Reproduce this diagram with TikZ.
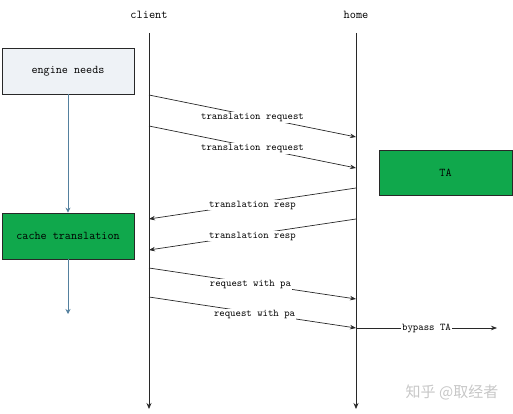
\documentclass[tikz,border=0pt]{standalone}
\usepackage{fontspec}
\newfontfamily\cjk{Noto Sans CJK SC}
\usetikzlibrary{arrows.meta}
\definecolor{boxgreen}{RGB}{16,168,76}
\definecolor{boxgray}{RGB}{238,242,246}
\definecolor{flowblue}{RGB}{84,128,158}
\definecolor{linegray}{RGB}{40,40,40}
\tikzset{
  title/.style={font=\ttfamily\fontsize{12}{13}\selectfont, inner sep=0pt},
  procbox/.style={draw=linegray, line width=0.8pt, minimum width=132pt, minimum height=46pt, font=\ttfamily\fontsize{11.8}{13}\selectfont, inner sep=0pt},
  lifeline/.style={draw=linegray, line width=0.8pt, -{Stealth[length=6pt,width=5pt]}},
  msg/.style={draw=linegray, line width=0.7pt, -{Stealth[length=6pt,width=4.5pt]}},
  msglabel/.style={fill=white, font=\ttfamily\fontsize{10.3}{11}\selectfont, inner sep=1pt, yshift=-1.5pt},
  flow/.style={draw=flowblue, line width=0.8pt, -{Stealth[length=5pt,width=5pt]}}
}
\begin{document}
\begin{tikzpicture}[x=1pt,y=-1pt]
\useasboundingbox (0,0) rectangle (513,414);
% titles
\node[title] (client) at (149,15) {client};
\node[title] (home) at (356,15) {home};
% lifelines
\coordinate (ct) at (149,33);
\coordinate (cb) at (149,409);
\coordinate (ht) at (356,33);
\coordinate (hb) at (356,409);
\draw[lifeline] (ct) -- (cb);
\draw[lifeline] (ht) -- (hb);
% boxes
\node[procbox, fill=boxgray] (engine) at (68,71) {engine needs};
\node[procbox, fill=boxgreen] (cache) at (68,236) {cache translation};
\node[procbox, fill=boxgreen, minimum width=133pt, minimum height=45pt] (ta) at (445.5,172.5) {TA};
% left flow
\coordinate (flowend) at (68,314);
\draw[flow] (engine.south) -- (cache.north);
\draw[flow] (cache.south) -- (flowend);
% message endpoints
\coordinate (c1) at (149,95);  \coordinate (h1) at (356,137);
\coordinate (c2) at (149,126); \coordinate (h2) at (356,168);
\coordinate (h3) at (356,188); \coordinate (c3) at (149,219);
\coordinate (h4) at (356,219); \coordinate (c4) at (149,250);
\coordinate (c5) at (149,268); \coordinate (h5) at (356,299);
\coordinate (c6) at (149,297); \coordinate (h6) at (356,328);
\coordinate (bp) at (497,328);
% messages
\draw[msg] (c1) -- node[msglabel] (m1) {translation request} (h1);
\draw[msg] (c2) -- node[msglabel] (m2) {translation request} (h2);
\draw[msg] (h3) -- node[msglabel] (m3) {translation resp} (c3);
\draw[msg] (h4) -- node[msglabel] (m4) {translation resp} (c4);
\draw[msg] (c5) -- node[msglabel, pos=0.49] (m5) {request with pa} (h5);
\draw[msg] (c6) -- node[msglabel, pos=0.51] (m6) {request with pa} (h6);
\draw[msg] (h6) -- node[msglabel, pos=0.5, yshift=1.5pt] (m7) {bypass TA} (bp);
% watermark
\node[font=\cjk\fontsize{15}{16}\selectfont, text=black!22, inner sep=0pt] (wm) at (452,392) {知乎 @取经者};
\end{tikzpicture}
\end{document}
